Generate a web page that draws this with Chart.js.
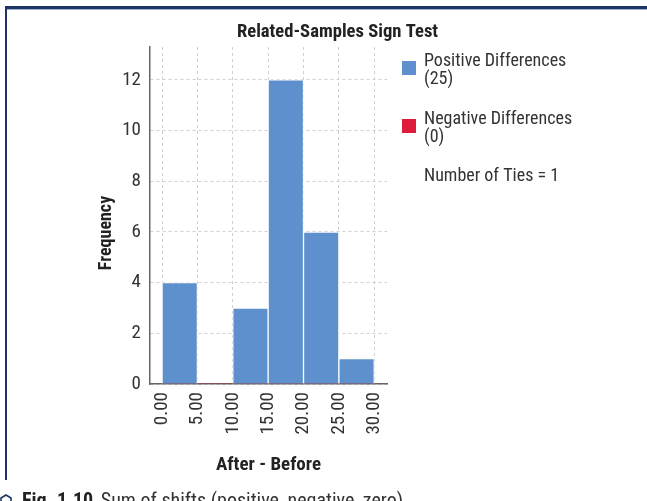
<!DOCTYPE html>
<html>
<head>
<meta charset="utf-8">
<script src="https://cdn.jsdelivr.net/npm/chart.js@4.4.1/dist/chart.umd.min.js"></script>
<style>
  html, body { margin: 0; padding: 0; background: #fff; overflow: hidden; }
  #wrap { position: relative; width: 647px; height: 501px; }
  #chart { position: absolute; left: 0; top: 0; }
  .frame-top { position: absolute; left: 5px; top: 6px; width: 642px; height: 3px; background: #1d3565; border-bottom: 1px solid #a3b2d0; }
  .frame-left { position: absolute; left: 5px; top: 6px; width: 2px; height: 474px; background: #1d3565; }
  .caption { position: absolute; left: 0; top: 488px; white-space: nowrap; color: #333; line-height: 1.2;
             font: 20px 'Roboto Condensed', 'DejaVu Sans Condensed', sans-serif; }
  .caption svg { vertical-align: -1px; margin-right: 10px; }
  .caption b { color: #222; margin-right: 3px; }
</style>
</head>
<body>
<div id="wrap">
  <canvas id="chart" width="647" height="501"></canvas>
  <div class="frame-top"></div>
  <div class="frame-left"></div>
  <div class="caption"><svg width="12" height="14" viewBox="0 0 12 14"><polygon points="6,1 11,4 11,10 6,13 1,10 1,4" fill="none" stroke="#1d3565" stroke-width="1.6"/></svg><b>Fig. 1.10</b> Sum of shifts (positive, negative, zero)</div>
</div>
<script>
// Histogram of the paired differences (After - Before), bins of width 5
const binCentres   = [2.5, 7.5, 12.5, 17.5, 22.5, 27.5];
const positiveFreq = [4, 0, 3, 12, 6, 1];
const negativeFreq = [0, 0, 0, 0, 0, 0];
const positiveCount = 25;
const negativeCount = 0;
const tiesCount = 1;
const xTickValues = [0, 5, 10, 15, 20, 25, 30];
const yTickValues = [0, 2, 4, 6, 8, 10, 12];

const FONT = "'Roboto Condensed', 'DejaVu Sans Condensed', sans-serif";
const BLUE = '#5e90cd';
const RED = '#dc1c3a';

// Chart title, y-axis title and side legend drawn around the plot area
const sidePanel = {
  id: 'sidePanel',
  afterDraw(chart) {
    const ctx = chart.ctx;
    ctx.save();
    ctx.fillStyle = '#222';
    ctx.font = 'bold 18.6px ' + FONT;
    ctx.textAlign = 'center';
    ctx.textBaseline = 'alphabetic';
    ctx.fillText('Related-Samples Sign Test', 337.5, 37);

    ctx.save();
    ctx.translate(111, 233);
    ctx.rotate(-Math.PI / 2);
    ctx.font = 'bold 18px ' + FONT;
    ctx.fillText('Frequency', 0, 0);
    ctx.restore();

    ctx.textAlign = 'left';
    ctx.font = '18px ' + FONT;
    const counts = [positiveCount, negativeCount];
    chart.data.datasets.forEach((ds, i) => {
      const base = 66 + i * 58;
      ctx.fillStyle = ds.backgroundColor;
      ctx.fillRect(402, base - 5, 14, 14);
      ctx.fillStyle = '#333';
      ctx.fillText(ds.label, 424, base);
      ctx.fillText('(' + counts[i] + ')', 424, base + 17.5);
    });
    ctx.fillText('Number of Ties = ' + tiesCount, 424, 181);
    ctx.restore();
  }
};

new Chart(document.getElementById('chart'), {
  type: 'bar',
  data: {
    datasets: [
      {
        label: 'Positive Differences',
        data: binCentres.map((x, i) => ({ x, y: positiveFreq[i] })),
        backgroundColor: BLUE,
        borderColor: '#ffffff',
        borderWidth: 1
      },
      {
        label: 'Negative Differences',
        data: binCentres.map((x, i) => ({ x, y: negativeFreq[i] })),
        backgroundColor: RED,
        borderWidth: 0
      }
    ]
  },
  options: {
    responsive: false,
    animation: false,
    devicePixelRatio: 1,
    layout: { padding: { left: 96, top: 47, right: 260, bottom: 24 } },
    datasets: { bar: { grouped: false, barPercentage: 1, categoryPercentage: 1 } },
    plugins: { legend: { display: false }, title: { display: false }, tooltip: { enabled: false } },
    scales: {
      x: {
        type: 'linear',
        offset: false,
        min: -1.7,
        max: 31.8,
        afterFit(scale) { scale.height = 93; },
        afterBuildTicks(scale) { scale.ticks = xTickValues.map(v => ({ value: v })); },
        ticks: {
          includeBounds: false,
          minRotation: 90,
          maxRotation: 90,
          padding: 8,
          color: '#333',
          font: { family: FONT, size: 19 },
          callback: v => Number(v).toFixed(2)
        },
        grid: { offset: false, color: '#d0d0d0', drawTicks: false },
        border: { display: true, color: '#666', width: 1.5, dash: [3, 3] },
        title: {
          display: true,
          text: 'After - Before',
          color: '#222',
          font: { family: FONT, size: 19, weight: 'bold' },
          padding: 0
        }
      },
      y: {
        min: 0,
        max: 13.3,
        afterFit(scale) { scale.width = 54; },
        afterBuildTicks(scale) { scale.ticks = yTickValues.map(v => ({ value: v })); },
        ticks: {
          includeBounds: false,
          padding: 9,
          color: '#333',
          font: { family: FONT, size: 19 }
        },
        grid: { color: '#d0d0d0', drawTicks: false },
        border: { display: true, color: '#666', width: 1.5, dash: [3, 3] },
        title: { display: false }
      }
    }
  },
  plugins: [sidePanel]
});
</script>
</body>
</html>
